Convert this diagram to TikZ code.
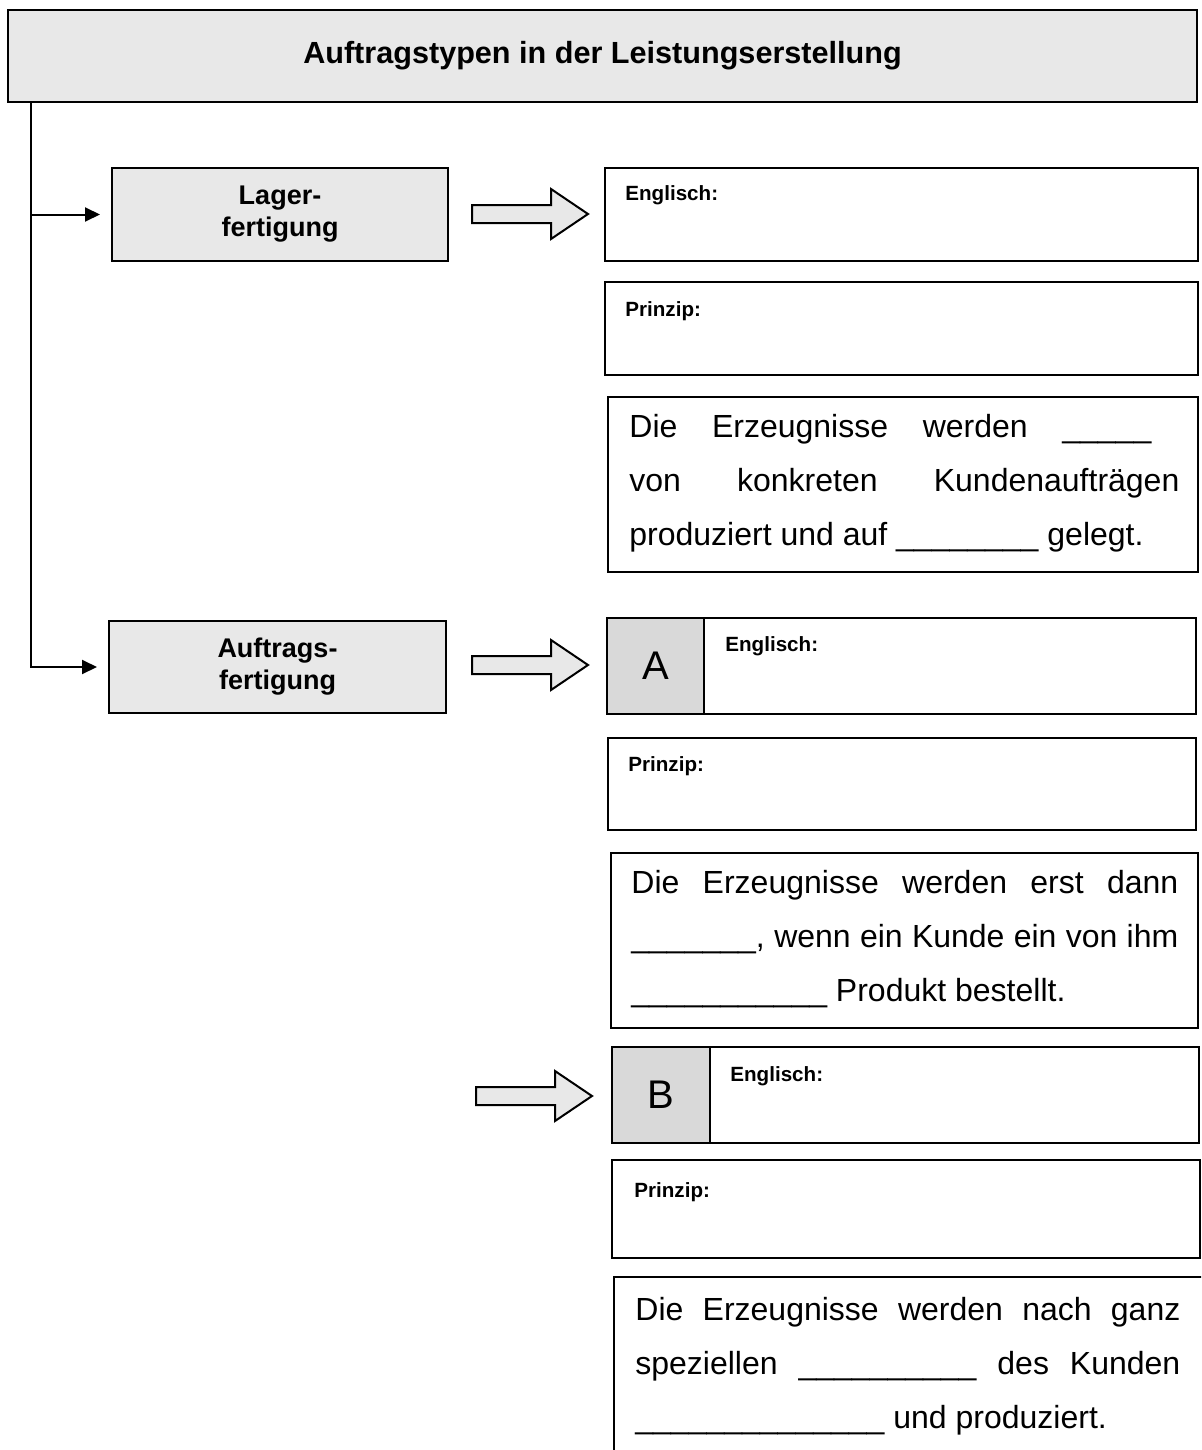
\documentclass[tikz,border=0pt]{standalone}
\usepackage{fontspec}
\setmainfont{Liberation Sans}
\usetikzlibrary{arrows.meta,positioning}
\definecolor{boxgray}{HTML}{E8E8E8}
\definecolor{letgray}{HTML}{D9D9D9}
\newcommand{\jl}[1]{\makebox[\linewidth][s]{#1}}
\tikzset{
  framebox/.style={draw, line width=1.2pt, anchor=north west, inner sep=0pt, outer sep=0pt},
  headbox/.style={framebox, fill=boxgray, align=center, font=\bfseries\fontsize{13.5}{16}\selectfont},
  lettbox/.style={framebox, fill=letgray, font=\fontsize{20}{24}\selectfont},
  smalllab/.style={anchor=north west, inner sep=0pt, font=\bfseries\fontsize{10.3}{12}\selectfont},
  filltext/.style={anchor=base west, inner sep=0pt, font=\fontsize{16}{27}\selectfont},
  link/.style={line width=1pt, -{Triangle[length=7.5pt,width=7pt]}, shorten >=6pt},
  bigarrow/.style={draw, line width=1pt, fill=boxgray, line join=miter}
}
\begin{document}
\begin{tikzpicture}[x=0.5pt, y=-0.5pt]
\path[use as bounding box, clip] (0,0) rectangle (1201,1450);
% Kopf
\node[framebox, fill=boxgray, minimum width=594.5pt, minimum height=46pt,
  font=\bfseries\fontsize{15.3}{18}\selectfont] (title) at (8,10) {Auftragstypen in der Leistungserstellung};
% Auftragstypen
\node[headbox, minimum width=168pt, minimum height=46.5pt] (lager) at (112,168) {Lager-\\fertigung};
\node[headbox, minimum width=168.5pt, minimum height=46pt] (auftrag) at (109,621) {Auftrags-\\fertigung};
\coordinate (trunk) at ([xshift=11.5pt]title.south west);
\draw[link] (trunk) |- (auftrag.west);
\draw[link] (trunk |- lager.west) -- (lager.west);
% Blockpfeile
\foreach \ax/\ay in {472/214, 472/665, 476/1096}
  \draw[bigarrow] (\ax,\ay) ++(0pt,4.5pt) -- ++(39.5pt,0pt) -- ++(0pt,8pt) -- ++(18.5pt,-12.5pt)
    -- ++(-18.5pt,-12.5pt) -- ++(0pt,8pt) -- ++(-39.5pt,0pt) -- cycle;
% Lagerfertigung
\node[framebox, minimum width=296.5pt, minimum height=46.5pt] (eng1) at (605,168) {};
\node[smalllab] (eng1t) at ([xshift=10pt,yshift=-8.5pt]eng1.north west) {Englisch:};
\node[framebox, minimum width=296.5pt, minimum height=46.5pt] (pri1) at (605,282) {};
\node[smalllab] (pri1t) at ([xshift=10pt,yshift=-9.5pt]pri1.north west) {Prinzip:};
\node[framebox, minimum width=295pt, minimum height=87.5pt] (fill1) at (608,397) {};
\node[filltext] (fill1t) at ([xshift=10.5pt,yshift=-20pt]fill1.north west) {\parbox[t]{275pt}{%
  \jl{Die Erzeugnisse werden \_\_\_\_\_\hspace*{14pt}}\\
  \jl{von konkreten Kundenaufträgen}\\
  produziert und auf \_\_\_\_\_\_\_\_ gelegt.}};
% Auftragsfertigung A
\node[lettbox, minimum width=48.5pt, minimum height=48pt] (a) at (607,618) {A};
\node[framebox, minimum width=246pt, minimum height=48pt] (enga) at (a.north east) {};
\node[smalllab] (engat) at ([xshift=10.5pt,yshift=-9pt]enga.north west) {Englisch:};
\node[framebox, minimum width=294pt, minimum height=46pt] (pri2) at (608,738) {};
\node[smalllab] (pri2t) at ([xshift=10pt,yshift=-9pt]pri2.north west) {Prinzip:};
\node[framebox, minimum width=293.5pt, minimum height=87.5pt] (fill2) at (611,853) {};
\node[filltext] (fill2t) at ([xshift=10pt,yshift=-20pt]fill2.north west) {\parbox[t]{273.5pt}{%
  \jl{Die Erzeugnisse werden erst dann}\\
  \jl{\_\_\_\_\_\_\_, wenn ein Kunde ein von ihm}\\
  \_\_\_\_\_\_\_\_\_\_\_ Produkt bestellt.}};
% Auftragsfertigung B
\node[lettbox, minimum width=49pt, minimum height=48pt] (b) at (612,1047) {B};
\node[framebox, minimum width=244.5pt, minimum height=48pt] (engb) at (b.north east) {};
\node[smalllab] (engbt) at ([xshift=10pt,yshift=-9.5pt]engb.north west) {Englisch:};
\node[framebox, minimum width=294pt, minimum height=49pt] (pri3) at (612,1160) {};
\node[smalllab] (pri3t) at ([xshift=11pt,yshift=-11pt]pri3.north west) {Prinzip:};
\node[framebox, minimum width=320pt, minimum height=120pt] (fill3) at (614,1277) {};
\node[filltext] (fill3t) at ([xshift=10.5pt,yshift=-21.5pt]fill3.north west) {\parbox[t]{272.5pt}{%
  \jl{Die Erzeugnisse werden nach ganz}\\
  \jl{speziellen \_\_\_\_\_\_\_\_\_\_ des Kunden}\\
  \_\_\_\_\_\_\_\_\_\_\_\_\_\_ und produziert.}};
\end{tikzpicture}
\end{document}
